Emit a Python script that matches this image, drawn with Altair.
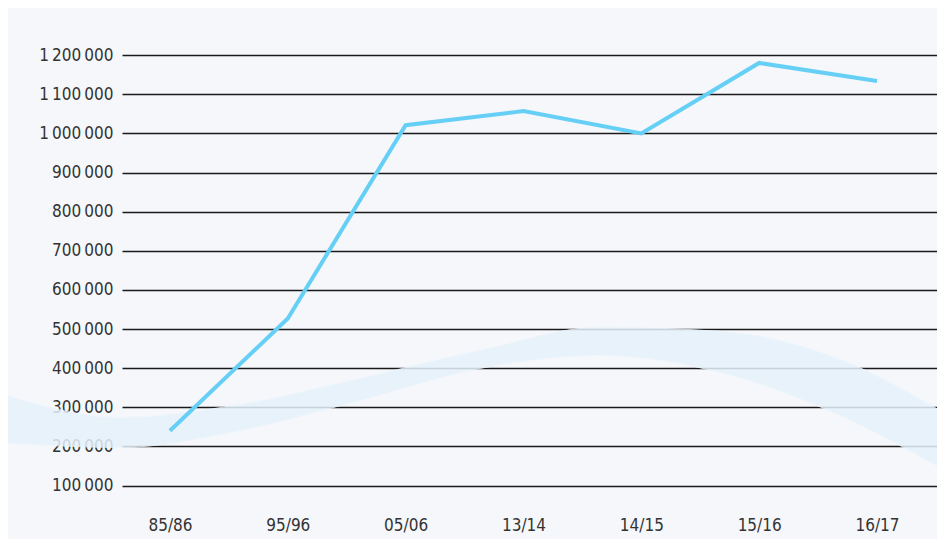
import json
import altair as alt
import pandas as pd

# --- data ---
categories = ["85/86", "95/96", "05/06", "13/14", "14/15", "15/16", "16/17"]
values = [240000, 527000, 1021000, 1057000, 1000000, 1180000, 1134000]

# decorative background wave (x in category-index units, y in data units)
wave_x = [-1.443, -0.424, 0.594, 1.612, 2.631, 3.649, 4.668, 5.686, 6.577]
wave_upper = [335400, 274000, 307200, 373700, 445400, 504200, 494000, 422300, 284200]
wave_lower = [210000, 197200, 240700, 317400, 399300, 432600, 389100, 279100, 138400]

y_ticks = [100000 * i for i in range(1, 13)]

line_df = pd.DataFrame({"idx": list(range(len(categories))), "cat": categories, "value": values})
wave_df = pd.DataFrame({"x": wave_x, "hi": wave_upper, "lo": wave_lower})

FONT = "DejaVu Sans Condensed, Liberation Sans Narrow, Roboto, sans-serif"
x_scale = alt.Scale(domain=[-0.407, 6.509], nice=False, zero=False)
y_scale = alt.Scale(domain=[40000, 1300000], nice=False, zero=False)

label_expr = json.dumps(categories) + "[datum.value]"
y_label_expr = "replace(replace(format(datum.value, ','), ',', '\u2009'), ',', '\u2009')"

x_axis = alt.Axis(values=list(range(len(categories))), labelExpr=label_expr,
                  title=None, grid=False, domain=False, ticks=False,
                  labelPadding=8, labelFontSize=17, labelColor="#333333",
                  labelFont=FONT)
y_axis = alt.Axis(values=y_ticks, labelExpr=y_label_expr, title=None, grid=True,
                  gridColor="#1a1a1a", gridWidth=1.3, domain=False, ticks=False,
                  labelPadding=9, labelFontSize=17, labelColor="#333333",
                  labelFont=FONT)

wave = alt.Chart(wave_df).mark_area(
    interpolate="monotone", color="#e6f2fb", opacity=0.85,
    stroke="#eef6fc", strokeWidth=1
).encode(
    x=alt.X("x:Q", scale=x_scale, axis=x_axis),
    y=alt.Y("hi:Q", scale=y_scale, axis=y_axis),
    y2="lo:Q",
)

line = alt.Chart(line_df).mark_line(color="#66cff6", strokeWidth=4).encode(
    x=alt.X("idx:Q", scale=x_scale, axis=x_axis),
    y=alt.Y("value:Q", scale=y_scale, axis=y_axis),
)

chart = alt.layer(wave, line).properties(
    width=815, height=493,
    autosize=alt.AutoSizeParams(type="none"),
    padding={"left": 114, "top": 8, "right": 0, "bottom": 30},
    background="#f5f7fb",
).configure_view(strokeWidth=0, strokeOpacity=0)

chart.save("out.html", embed_options={"renderer": "svg", "actions": False})
